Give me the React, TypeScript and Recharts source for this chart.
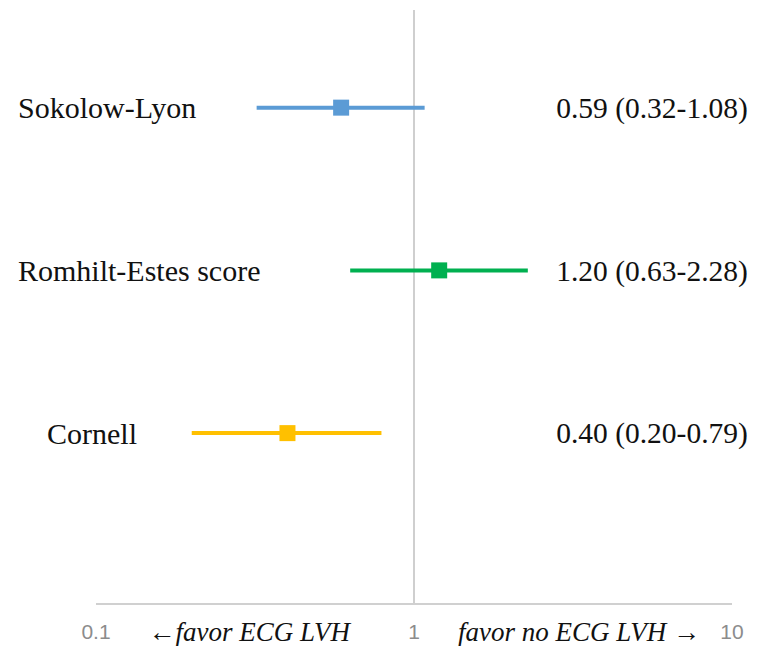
import { ScatterChart, Scatter, XAxis, YAxis, ReferenceLine } from "recharts";

const names = ["Sokolow-Lyon", "Romhilt-Estes score", "Cornell"];
const rowY = [3, 2, 1];
const estimates = [0.59, 1.2, 0.4];
const lower = [0.32, 0.63, 0.2];
const upper = [1.08, 2.28, 0.79];
const ciLabels = ["0.59 (0.32-1.08)", "1.20 (0.63-2.28)", "0.40 (0.20-0.79)"];
const colors = ["#5b9bd5", "#00b050", "#ffc000"];
const xTicks = [0.1, 1, 10];

const nameX = [18, 18, 47];
const serif = "'Liberation Serif', 'Times New Roman', serif";

// square marker plus the row's name and CI text at the same height
const pointShape = (i: number) => (p: any) => (
  <g>
    <rect x={p.cx - 8} y={p.cy - 8} width={16} height={16} fill={colors[i]} />
    <text x={nameX[i]} y={p.cy} dy="0.35em" fontFamily={serif} fontSize={30} fill="#111">
      {names[i]}
    </text>
    <text x={652} y={p.cy} dy="0.35em" textAnchor="middle" fontFamily={serif} fontSize={29.5} fill="#111">
      {ciLabels[i]}
    </text>
  </g>
);

const XTick = ({ x, y, payload }: any) => {
  const v = payload.value;
  return (
    <g>
      <text x={x} y={y + 28} dy="0.35em" textAnchor="middle" fontFamily="'Liberation Sans', Arial, sans-serif" fontSize={21} fill="#8c8c8c">
        {String(v)}
      </text>
      {v === 1 && (
        <>
          <text x={x - 64} y={y + 28} dy="0.35em" textAnchor="end" fontFamily={serif} fontStyle="italic" fontSize={27} fill="#111">
            ←favor ECG LVH
          </text>
          <text x={x + 44} y={y + 28} dy="0.35em" textAnchor="start" fontFamily={serif} fontStyle="italic" fontSize={27} fill="#111">
            favor no ECG LVH →
          </text>
        </>
      )}
    </g>
  );
};

export default function App() {
  return (
    <div style={{ position: "absolute", left: 0, top: 0, background: "#fff" }}>
      <ScatterChart width={776} height={646} margin={{ top: 10, right: 44, bottom: 12, left: 96 }}>
        <XAxis
          type="number"
          dataKey="x"
          scale="log"
          domain={[0.1, 10]}
          ticks={xTicks}
          height={30}
          axisLine={{ stroke: "#d0d0d0", strokeWidth: 2 }}
          tickLine={false}
          tickSize={0}
          tickMargin={0}
          tick={<XTick />}
          interval={0}
        />
        <YAxis type="number" dataKey="y" domain={[-0.05, 3.6]} hide />
        <ReferenceLine x={1} stroke="#bfbfbf" strokeWidth={1.5} />
        {names.map((n, i) => (
          <Scatter
            key={"ci-" + n}
            data={[
              { x: lower[i], y: rowY[i] },
              { x: upper[i], y: rowY[i] },
            ]}
            line={{ stroke: colors[i], strokeWidth: 4 }}
            shape={() => <g />}
            isAnimationActive={false}
          />
        ))}
        {names.map((n, i) => (
          <Scatter
            key={"pt-" + n}
            data={[{ x: estimates[i], y: rowY[i] }]}
            fill={colors[i]}
            shape={pointShape(i)}
            isAnimationActive={false}
          />
        ))}
      </ScatterChart>
    </div>
  );
}
